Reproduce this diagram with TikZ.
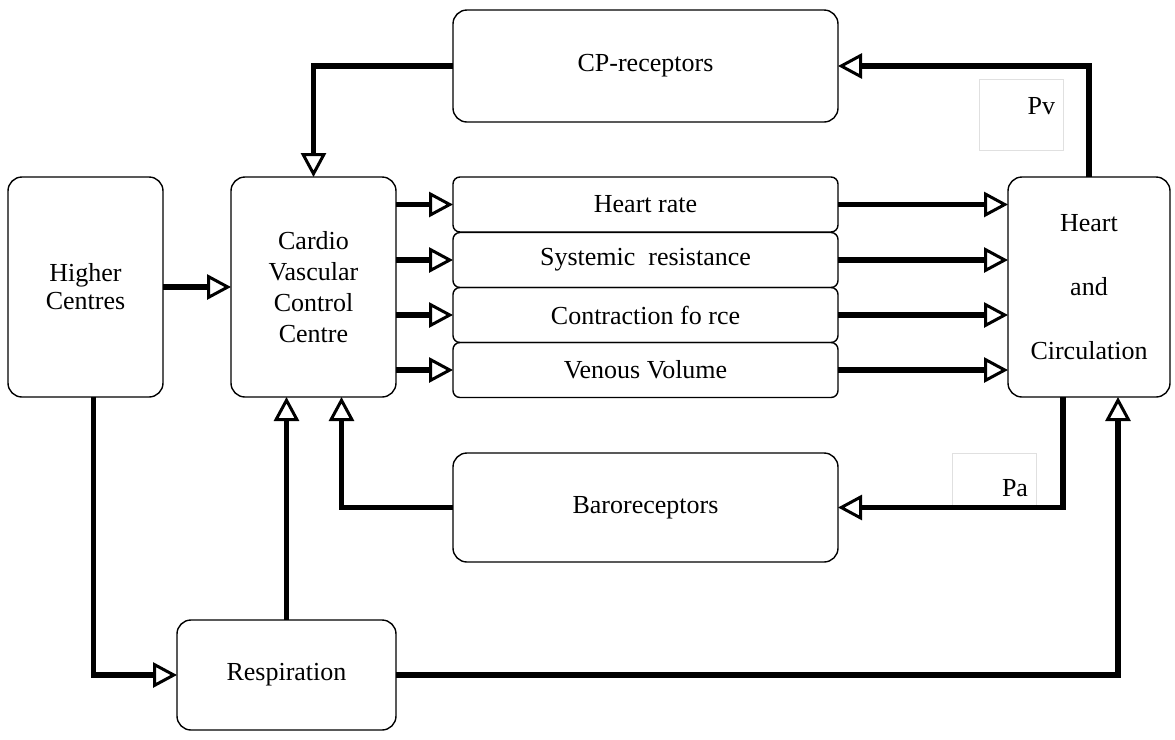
\documentclass[tikz,border=0pt]{standalone}
\usepackage{fontspec}
\setmainfont{Liberation Serif}
\usetikzlibrary{arrows.meta,positioning,calc}
\tikzset{box/.style={draw,rounded corners=7pt,line width=0.7pt,outer sep=0pt,align=center,font=\fontsize{13}{15.5}\selectfont},row/.style={box,rounded corners=3.5pt,minimum width=192.5pt,minimum height=27.5pt},sig/.style={line width=2.6pt,-{Triangle[length=12pt,width=12.5pt,line width=1.5pt,fill=white]}},plab/.style={draw=black!12,line width=0.5pt,outer sep=0pt,align=right,text width=34pt,inner xsep=4pt,font=\fontsize{13}{15.5}\selectfont}}

\begin{document}
\begin{tikzpicture}[x=0.5pt,y=-0.5pt]
\useasboundingbox (0,0) rectangle (1175,740);
\node[box,minimum width=192.5pt,minimum height=56pt] (cp) at (645.5,66) {CP-receptors};
\node[box,minimum width=77.5pt,minimum height=110pt,font=\fontsize{13}{14}\selectfont] (higher) at (85.5,287) {Higher\\Centres};
\node[box,minimum width=82.5pt,minimum height=110pt] (cvcc) at (313.5,287) {Cardio\\Vascular\\Control\\Centre};
\node[row] (hr) at (645.5,204.5) {Heart rate};
\node[row] (sr) at (645.5,260) {Systemic\ \ resistance};
\node[row] (cf) at (645.5,315) {Contraction fo rce};
\node[row] (vv) at (645.5,370) {Venous Volume};
\node[box,minimum width=81pt,minimum height=110pt] (heart) at (1089,287) {Heart\\[16.5pt]and\\[16.5pt]Circulation};
\node[box,minimum width=192.5pt,minimum height=54.5pt] (baro) at (645.5,507.5) {Baroreceptors};
\node[box,minimum width=109.5pt,minimum height=55pt] (resp) at (286.5,675) {Respiration};
\node[plab,minimum height=35.5pt] (pv) at (1021,114.5) {\raisebox{0pt}[0pt][0pt]{Pv}};
\node[plab,minimum height=27.5pt] (pa) at (994,480.5) {\raisebox{-8pt}[0pt][0pt]{Pa}};
% feedback loops
\draw[sig] (cp.west) -| (cvcc.north);
\draw[sig] (heart.north) |- (cp.east);
\draw[sig] (higher) -- (cvcc);
\foreach \r in {hr,sr,cf,vv}{
  \draw[sig] (cvcc.east |- \r.west) -- (\r.west);
  \draw[sig] (\r.east) -- (heart.west |- \r.east);
}
\draw[sig] ([xshift=-13pt]heart.south) |- (baro.east);
\draw[sig] (baro.west) -| ([xshift=14pt]cvcc.south);
\draw[sig] (resp.north) -- (resp.north |- cvcc.south);
\draw[sig] ([xshift=4pt]higher.south) |- (resp.west);
\draw[sig] (resp.east) -| ([xshift=14.5pt]heart.south);
\end{tikzpicture}
\end{document}
